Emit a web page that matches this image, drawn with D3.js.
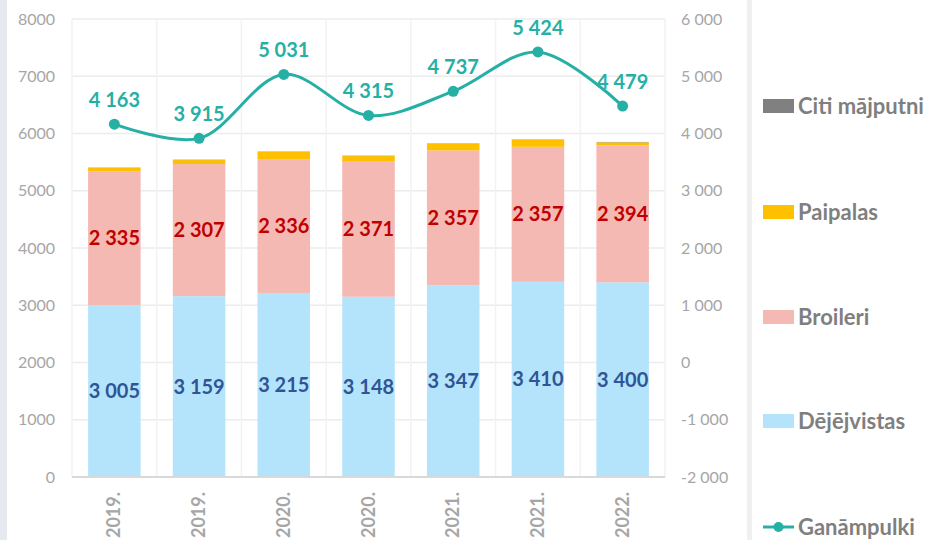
<!DOCTYPE html>
<html>
<head>
<meta charset="utf-8">
<script src="https://cdn.jsdelivr.net/npm/d3@7"></script>
<style>
  body { margin: 0; background: #ffffff; }
  svg { display: block; font-family: Lato, "Open Sans", sans-serif; }
</style>
</head>
<body>
<div id="grafica"></div>
<script>
// datos
const periodos = ["2019.", "2019.", "2020.", "2020.", "2021.", "2021.", "2022."]
const dejejvistas = [3005, 3159, 3215, 3148, 3347, 3410, 3400]
const broileri = [2335, 2307, 2336, 2371, 2357, 2357, 2394]
const paipalas = [57, 70, 127, 87, 117, 122, 52]
const citi = [6, 6, 6, 6, 6, 6, 6]
const ganampulki = [4163, 3915, 5031, 4315, 4737, 5424, 4479]
const ticksIzq = [0, 1000, 2000, 3000, 4000, 5000, 6000, 7000, 8000]
const ticksDer = [-2000, -1000, 0, 1000, 2000, 3000, 4000, 5000, 6000]

const series = [
  {nombre: "Dējējvistas", valores: dejejvistas, color: "#b4e4fb"},
  {nombre: "Broileri", valores: broileri, color: "#f4b9b2"},
  {nombre: "Paipalas", valores: paipalas, color: "#ffc000"},
  {nombre: "Citi mājputni", valores: citi, color: "#808080"}
]

const W = 929, H = 540
const margin = {top: 19, left: 72, right: 264, bottom: 63}
const width = W - margin.left - margin.right
const height = H - margin.top - margin.bottom

const fmt0 = d3.formatLocale({decimal: ",", thousands: " ", grouping: [3], currency: ["", ""], minus: "-"}).format(",d")
const fmt = d => fmt0(d)

const svg = d3.select("#grafica").append("svg").attr("width", W).attr("height", H)

// franja izquierda y separador
svg.append("rect").attr("x", 0).attr("y", 0).attr("width", 7).attr("height", H).attr("fill", "#e6eaf0")
svg.append("rect").attr("x", 747).attr("y", 0).attr("width", 5).attr("height", H).attr("fill", "#f0f0f0")

const g = svg.append("g").attr("transform", `translate(${margin.left},${margin.top})`)

const x = d3.scaleBand().domain(d3.range(periodos.length)).range([0, width]).paddingInner(0.38).paddingOuter(0.19)
const y = d3.scaleLinear().domain([0, 8000]).range([height, 0])
const y2 = d3.scaleLinear().domain([-2000, 6000]).range([height, 0])

// rejilla
g.append("g").selectAll("line").data(ticksIzq).join("line")
  .attr("x1", 0).attr("x2", width)
  .attr("y1", d => y(d)).attr("y2", d => y(d))
  .attr("stroke", "#ececec").attr("stroke-width", 1.5)
const step = width / periodos.length
g.append("g").selectAll("line").data(d3.range(periodos.length + 1)).join("line")
  .attr("x1", d => d * step).attr("x2", d => d * step)
  .attr("y1", 0).attr("y2", height)
  .attr("stroke", "#f2f2f2").attr("stroke-width", 1.5)

// ejes
const ejeIzq = g.append("g").call(d3.axisLeft(y).tickValues(ticksIzq).tickSize(0).tickPadding(17).tickFormat(d3.format("d")))
const ejeDer = g.append("g").attr("transform", `translate(${width},0)`)
  .call(d3.axisRight(y2).tickValues(ticksDer).tickSize(0).tickPadding(16).tickFormat(fmt))
;[ejeIzq, ejeDer].forEach(e => {
  e.select(".domain").remove()
  e.selectAll("text").attr("fill", "#a6a6a6").style("font-size", "16px").style("font-family", "Lato, sans-serif")
})

// barras apiladas
const tabla = periodos.map((p, i) => {
  const o = {i: i}
  series.forEach(s => { o[s.nombre] = s.valores[i] })
  return o
})
const stack = d3.stack().keys(series.map(s => s.nombre))(tabla)
g.append("g").selectAll("g").data(stack).join("g")
  .attr("fill", (d, k) => series[k].color)
  .selectAll("rect").data(d => d).join("rect")
  .attr("x", d => x(d.data.i))
  .attr("width", x.bandwidth())
  .attr("y", d => y(d[1]))
  .attr("height", d => y(d[0]) - y(d[1]))

// eje inferior
g.append("line").attr("x1", 0).attr("x2", width).attr("y1", height).attr("y2", height)
  .attr("stroke", "#d9d9d9").attr("stroke-width", 2)

// etiquetas de barras
const etiq = [
  {serie: stack[0], color: "#2f5597"},
  {serie: stack[1], color: "#c00000"}
]
etiq.forEach(e => {
  g.append("g").selectAll("text").data(e.serie).join("text")
    .attr("x", d => x(d.data.i) + x.bandwidth() / 2)
    .attr("y", d => (y(d[0]) + y(d[1])) / 2)
    .attr("dy", "0.35em")
    .attr("text-anchor", "middle")
    .attr("fill", e.color)
    .style("font-size", "20px").style("font-weight", "bold")
    .text(d => fmt(d[1] - d[0]))
})

// linea
const cx = i => x(i) + x.bandwidth() / 2
const linea = d3.line().x((d, i) => cx(i)).y(d => y2(d)).curve(d3.curveCatmullRom.alpha(0.5))
g.append("path").datum(ganampulki).attr("d", linea)
  .attr("fill", "none").attr("stroke", "#26b0a5").attr("stroke-width", 3)
g.append("g").selectAll("circle").data(ganampulki).join("circle")
  .attr("cx", (d, i) => cx(i)).attr("cy", d => y2(d)).attr("r", 5.5).attr("fill", "#26b0a5")
g.append("g").selectAll("text").data(ganampulki).join("text")
  .attr("x", (d, i) => cx(i)).attr("y", d => y2(d) - 17)
  .attr("text-anchor", "middle").attr("fill", "#26b0a5")
  .style("font-size", "20px").style("font-weight", "bold")
  .text(d => fmt(d))

// etiquetas eje x
g.append("g").selectAll("text").data(periodos).join("text")
  .attr("transform", (d, i) => `translate(${cx(i) + 6},${height + 15}) rotate(-90)`)
  .attr("text-anchor", "end")
  .attr("fill", "#a6a6a6")
  .style("font-size", "18px").style("font-weight", "bold")
  .text(d => d)

// leyenda
const leyenda = [
  {nombre: "Citi mājputni", color: "#808080", y: 106},
  {nombre: "Paipalas", color: "#ffc000", y: 212},
  {nombre: "Broileri", color: "#f4b9b2", y: 317},
  {nombre: "Dējējvistas", color: "#b4e4fb", y: 421},
  {nombre: "Ganāmpulki", color: "#26b0a5", y: 527, linea: true}
]
const ley = svg.append("g").selectAll("g").data(leyenda).join("g")
  .attr("transform", d => `translate(763,${d.y})`)
ley.filter(d => !d.linea).append("rect")
  .attr("x", 0).attr("y", -7).attr("width", 31).attr("height", 14).attr("fill", d => d.color)
const lineaLey = ley.filter(d => d.linea)
lineaLey.append("line").attr("x1", 0).attr("x2", 31).attr("stroke", d => d.color).attr("stroke-width", 3)
lineaLey.append("circle").attr("cx", 15.5).attr("r", 5).attr("fill", d => d.color)
ley.append("text").attr("x", 35).attr("dy", "0.35em")
  .attr("fill", "#7f7f7f").style("font-size", "22px").style("font-weight", "bold")
  .text(d => d.nombre)
</script>
</body>
</html>
